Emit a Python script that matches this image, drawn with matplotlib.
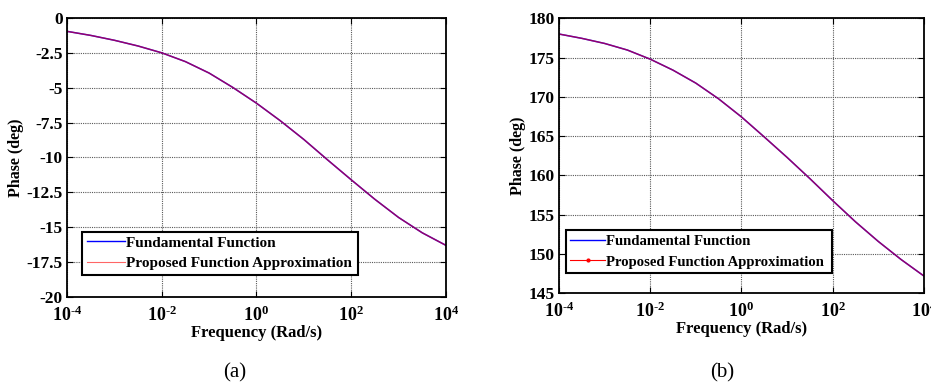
import matplotlib
matplotlib.use("Agg")
import matplotlib.pyplot as plt
from matplotlib.lines import Line2D
from matplotlib.ticker import FixedLocator, FixedFormatter, NullLocator

plt.rcParams['font.family'] = ['Liberation Serif', 'DejaVu Serif']
plt.rcParams['font.weight'] = 'bold'
plt.rcParams['mathtext.fontset'] = 'custom'
plt.rcParams['mathtext.rm'] = 'Liberation Serif:bold'
plt.rcParams['mathtext.bf'] = 'Liberation Serif:bold'
plt.rcParams['mathtext.it'] = 'Liberation Serif:bold'

# frequency points (rad/s), half-decade spacing
freq = [1e-4, 3.16e-4, 1e-3, 3.16e-3, 1e-2, 3.16e-2, 1e-1, 3.16e-1,
        1e0, 3.16e0, 1e1, 3.16e1, 1e2, 3.16e2, 1e3, 3.16e3, 1e4]

# (a) phase in degrees
phase_a = [-0.96, -1.25, -1.60, -2.01, -2.50, -3.13, -3.95, -4.98,
           -6.11, -7.36, -8.71, -10.17, -11.6, -13.0, -14.3, -15.4, -16.3]
phase_a_approx = [-0.96, -1.25, -1.60, -2.01, -2.50, -3.13, -3.95, -4.98,
                  -6.11, -7.36, -8.71, -10.17, -11.6, -13.0, -14.3, -15.4, -16.3]

# (b) phase in degrees
phase_b = [178.0, 177.45, 176.8, 175.96, 174.8, 173.4, 171.75, 169.75,
           167.45, 164.9, 162.3, 159.6, 156.8, 154.1, 151.6, 149.3, 147.2]
phase_b_approx = [178.0, 177.45, 176.8, 175.96, 174.8, 173.4, 171.75, 169.75,
                  167.45, 164.9, 162.3, 159.6, 156.8, 154.1, 151.6, 149.3, 147.2]

xticks = [1e-4, 1e-2, 1e0, 1e2, 1e4]
xticklabels = [r'$10^{\text{-4}}$', r'$10^{\text{-2}}$', r'$10^{0}$', r'$10^{2}$', r'$10^{4}$']
yticks_a = [0, -2.5, -5, -7.5, -10, -12.5, -15, -17.5, -20]
yticks_b = [145, 150, 155, 160, 165, 170, 175, 180]

labels = ['Fundamental Function', 'Proposed Function Approximation']

fig = plt.figure(figsize=(9.31, 3.87), dpi=100)
ax1 = fig.add_axes([0.072, 0.2326, 0.407, 0.721])
ax2 = fig.add_axes([0.6004, 0.2421, 0.392, 0.7106])


def style(ax, yticks, ylim):
    ax.set_xscale('log')
    ax.set_xlim(1e-4, 1e4)
    ax.set_ylim(*ylim)
    ax.xaxis.set_major_locator(FixedLocator(xticks))
    ax.xaxis.set_major_formatter(FixedFormatter(xticklabels))
    ax.xaxis.set_minor_locator(NullLocator())
    ax.set_yticks(yticks)
    ax.set_yticklabels(['%g' % v for v in yticks])
    ax.tick_params(direction='in', length=4, width=0.8, top=True, right=True,
                   labelsize=12.5, pad=3)
    ax.tick_params(axis='x', labelsize=13, pad=6)
    for lab in ax.get_xticklabels() + ax.get_yticklabels():
        lab.set_fontweight('bold')
    ax.grid(True, color='0.35', linestyle=(0, (1, 1)), linewidth=0.8)
    for s in ax.spines.values():
        s.set_linewidth(1.3)
        s.set_color('black')
    ax.set_xlabel('Frequency (Rad/s)', fontsize=12, fontweight='bold', labelpad=0)
    ax.set_ylabel('Phase (deg)', fontsize=11.5, fontweight='bold', labelpad=2)


# panel (a)
ax1.plot(freq, phase_a, color='blue', lw=1.1)
ax1.plot(freq, phase_a_approx, color='red', lw=1.0, alpha=0.6)
style(ax1, yticks_a, (-20, 0))
h1 = [Line2D([], [], color='blue', lw=1.0), Line2D([], [], color='red', lw=0.8, alpha=0.6)]
leg1 = ax1.legend(h1, labels, loc='lower left', bbox_to_anchor=(0.04, 0.079, 0.728, 0.172),
                  mode='expand', fancybox=False, framealpha=1, edgecolor='black',
                  prop={'weight': 'bold', 'size': 11}, handlelength=2.5,
                  handletextpad=0.05, borderpad=0.3, labelspacing=0.45, borderaxespad=0)
leg1.get_frame().set_linewidth(1.5)

# panel (b)
ax2.plot(freq, phase_b, color='blue', lw=1.1)
ax2.plot(freq, phase_b_approx, color='red', lw=1.0, alpha=0.6)
style(ax2, yticks_b, (145, 180))
h2 = [Line2D([], [], color='blue', lw=1.0),
      Line2D([], [], color='red', lw=0.8, marker='.', markersize=4)]
leg2 = ax2.legend(h2, labels, loc='lower left', bbox_to_anchor=(0.018, 0.074, 0.729, 0.182),
                  mode='expand', fancybox=False, framealpha=1, edgecolor='black',
                  prop={'weight': 'bold', 'size': 10.6}, handlelength=2.4,
                  handletextpad=0.05, borderpad=0.3, labelspacing=0.5, borderaxespad=0,
                  numpoints=1)
leg2.get_frame().set_linewidth(1.5)

fig.text(235 / 931, 1 - 373 / 387, '(a)', fontsize=15, fontweight='normal',
         ha='center', va='center')
fig.text(722 / 931, 1 - 373 / 387, '(b)', fontsize=15, fontweight='normal',
         ha='center', va='center')

fig.savefig('out.png', dpi=100)
